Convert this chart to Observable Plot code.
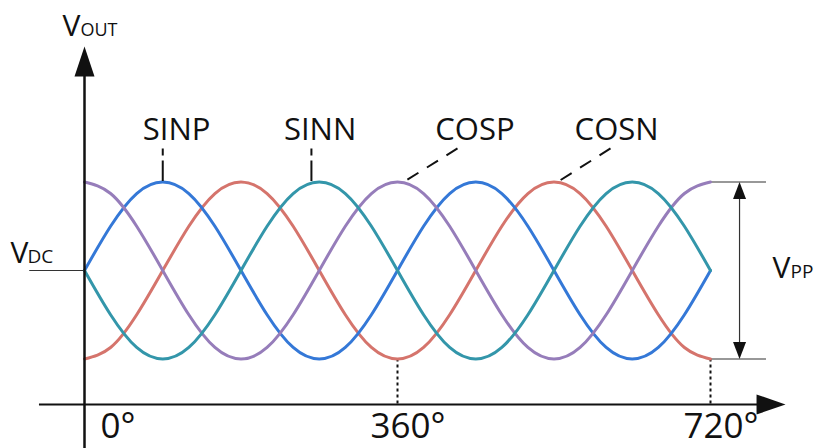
<!DOCTYPE html>
<html>
<head>
<meta charset="utf-8">
<script src="https://cdn.jsdelivr.net/npm/d3@7"></script>
<script src="https://cdn.jsdelivr.net/npm/@observablehq/plot@0.6"></script>
<style>
  html, body { margin: 0; padding: 0; background: #fff; }
  #chart svg { display: block; }
</style>
</head>
<body>
<div id="chart"></div>
<script>
// ---- data (phase in degrees, output normalised to VDC = 0, peak = ±1)
const degrees = [0,30,60,90,120,150,180,210,240,270,300,330,360,390,420,450,480,510,540,570,600,630,660,690,720];
const sinp = [0,0.5,0.87,1,0.87,0.5,0,-0.5,-0.87,-1,-0.87,-0.5,0,0.5,0.87,1,0.87,0.5,0,-0.5,-0.87,-1,-0.87,-0.5,0];
const sinn = [0,-0.5,-0.87,-1,-0.87,-0.5,0,0.5,0.87,1,0.87,0.5,0,-0.5,-0.87,-1,-0.87,-0.5,0,0.5,0.87,1,0.87,0.5,0];
const cosp = [1,0.87,0.5,0,-0.5,-0.87,-1,-0.87,-0.5,0,0.5,0.87,1,0.87,0.5,0,-0.5,-0.87,-1,-0.87,-0.5,0,0.5,0.87,1];
const cosn = [-1,-0.87,-0.5,0,0.5,0.87,1,0.87,0.5,0,-0.5,-0.87,-1,-0.87,-0.5,0,0.5,0.87,1,0.87,0.5,0,-0.5,-0.87,-1];
const seriesNames = ["COSN", "SINP", "COSP", "SINN"];       // drawing order
const seriesValues = [cosn, sinp, cosp, sinn];
const seriesColors = ["#d5746c", "#3478d7", "#967dba", "#3396aa"];

const labelNames  = ["SINP", "SINN", "COSP", "COSN"];
const labelDeg    = [106, 271, 449, 612];
const leaderTop   = [90, 261, 429, 605];
const leaderBot   = [90, 261, 367, 544];

const tickDegrees = [0, 360, 720];
const tickLabels  = ["0°", "360°", "720°"];

// ---- table for the library
const rows = seriesNames.flatMap((s, j) => degrees.map((d, i) => ({deg: d, v: seriesValues[j][i], series: s})));
const labels = labelNames.map((name, i) => ({name, x: labelDeg[i], top: leaderTop[i], bot: leaderBot[i], vertical: leaderTop[i] === leaderBot[i]}));
const ticks = tickDegrees.map((d, i) => ({deg: d, label: tickLabels[i]}));

// ---- layout constants (in scale units)
const peak = 1, trough = -1;
const axisY = -1.514;          // level of the horizontal axis
const leaderHigh = 1.379;      // top of leader lines
const labelBase = 1.469;       // baseline of series labels
const tickBase = -1.898;       // baseline of tick labels

// filled arrowheads as custom symbols (tip at origin)
const arrow = (dir, w, h) => ({
  draw(ctx) {
    if (dir === "up")    { ctx.moveTo(0, 0); ctx.lineTo(w / 2, h); ctx.lineTo(-w / 2, h); }
    if (dir === "down")  { ctx.moveTo(0, 0); ctx.lineTo(w / 2, -h); ctx.lineTo(-w / 2, -h); }
    if (dir === "right") { ctx.moveTo(0, 0); ctx.lineTo(-h, w / 2); ctx.lineTo(-h, -w / 2); }
    ctx.closePath();
  }
});

const font = "Open Sans";
const ink = "#111";

const plot = Plot.plot({
  width: 814,
  height: 448,
  margin: 0,
  x: {domain: [0, 720], range: [84, 710], axis: null},
  y: {domain: [-1, 1], range: [358.5, 181.5], axis: null},
  color: {domain: seriesNames, range: seriesColors},
  style: {fontFamily: font, background: "#fff", color: ink},
  marks: [
    // VDC reference line
    Plot.ruleY([0], {x1: -63, x2: 0, stroke: "#333", strokeWidth: 1.2}),
    // VPP limit lines and double arrow
    Plot.ruleY([peak, trough], {x1: 720, x2: 784.4, stroke: "#333", strokeWidth: 1.2}),
    Plot.ruleX([753.4], {y1: 0.85, y2: -0.85, stroke: "#333", strokeWidth: 1.2}),
    Plot.dot([[753.4, peak]], {x: d => d[0], y: d => d[1], symbol: arrow("up", 13, 17), r: 5, fill: ink, stroke: "none"}),
    Plot.dot([[753.4, trough]], {x: d => d[0], y: d => d[1], symbol: arrow("down", 13, 17), r: 5, fill: ink, stroke: "none"}),
    // dotted drop lines to the axis
    Plot.ruleX([360, 720], {y1: trough, y2: axisY, stroke: ink, strokeWidth: 2, strokeDasharray: "3,3"}),
    // waveforms
    Plot.line(rows, {x: "deg", y: "v", z: "series", stroke: "series", strokeWidth: 3, curve: "natural"}),
    // leader lines
    Plot.link(labels.filter(d => d.vertical), {x1: "top", y1: leaderHigh, x2: "bot", y2: 1.01, stroke: ink, strokeWidth: 2, strokeDasharray: "7,5,40"}),
    Plot.link(labels.filter(d => !d.vertical), {x1: "top", y1: leaderHigh, x2: "bot", y2: 1.0, stroke: ink, strokeWidth: 2, strokeDasharray: "13,10"}),
    // series labels
    Plot.text(labels, {x: "x", y: labelBase, text: "name", textAnchor: "middle", lineAnchor: "bottom", fontSize: 31, fill: ink}),
    // axes
    Plot.ruleX([0], {y1: -2.1, y2: 2.2, stroke: ink, strokeWidth: 2.5}),
    Plot.dot([[0, 2.531]], {x: d => d[0], y: d => d[1], symbol: arrow("up", 20, 30), r: 5, fill: ink, stroke: "none"}),
    Plot.ruleY([axisY], {x1: -51.8, x2: 775, stroke: ink, strokeWidth: 2}),
    Plot.dot([[806.3, axisY]], {x: d => d[0], y: d => d[1], symbol: arrow("right", 20, 29), r: 5, fill: ink, stroke: "none"}),
    // tick labels
    Plot.text(ticks.filter(d => d.deg === 0), {x: "deg", y: tickBase, text: "label", textAnchor: "start", lineAnchor: "bottom", dx: 16, fontSize: 35, fill: ink}),
    Plot.text(ticks.filter(d => d.deg !== 0), {x: "deg", y: tickBase, text: "label", textAnchor: "start", lineAnchor: "bottom", dx: -27, fontSize: 35, fill: ink}),
    // axis titles (V with subscripts)
    Plot.text(["V"], {x: -25.3, y: 2.655, text: d => d, textAnchor: "start", lineAnchor: "bottom", fontSize: 30, fill: ink}),
    Plot.text(["OUT"], {x: -4.6, y: 2.655, text: d => d, textAnchor: "start", lineAnchor: "bottom", fontSize: 18, fill: ink}),
    Plot.text(["V"], {x: -85.1, y: 0.09, text: d => d, textAnchor: "start", lineAnchor: "bottom", fontSize: 30, fill: ink}),
    Plot.text(["DC"], {x: -65.6, y: 0.09, text: d => d, textAnchor: "start", lineAnchor: "bottom", fontSize: 19, fill: ink}),
    Plot.text(["V"], {x: 791.3, y: -0.09, text: d => d, textAnchor: "start", lineAnchor: "bottom", fontSize: 30, fill: ink}),
    Plot.text(["PP"], {x: 812, y: -0.09, text: d => d, textAnchor: "start", lineAnchor: "bottom", fontSize: 19, fill: ink})
  ]
});
document.getElementById("chart").append(plot);
</script>
</body>
</html>
